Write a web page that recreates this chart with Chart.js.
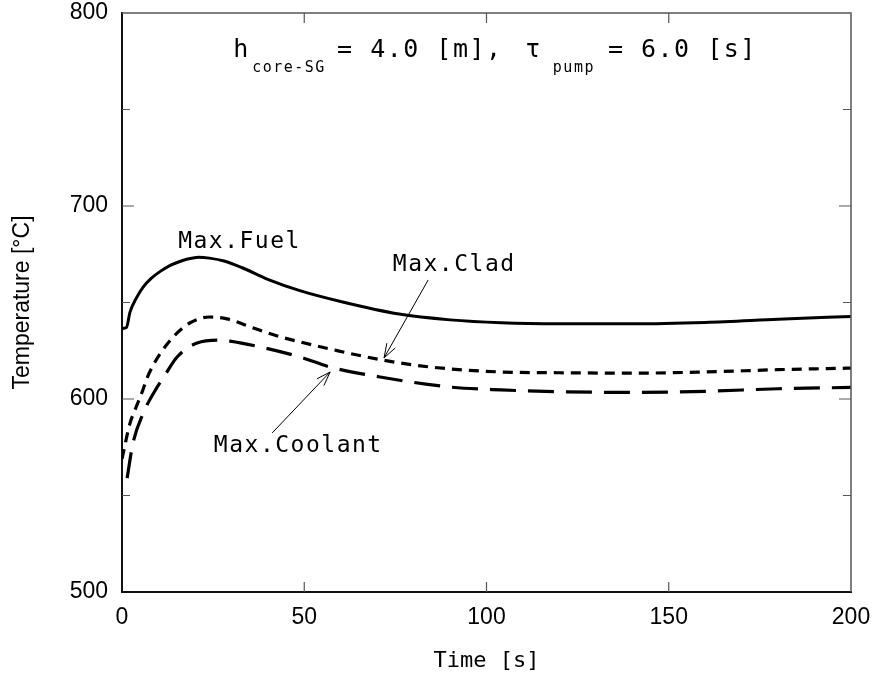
<!DOCTYPE html>
<html>
<head>
<meta charset="utf-8">
<script src="https://cdn.jsdelivr.net/npm/chart.js@4.4.0/dist/chart.umd.min.js"></script>
<style>
body { margin:0; background:#fff; }
#wrap { width:874px; height:674px; position:relative; }
</style>
</head>
<body>
<div id="wrap"><canvas id="chart"></canvas></div>
<script>
// values: time [s] / temperature [C]
var fuelTime = [0, 1.2, 2.2, 4, 5.8, 8, 10.4, 13, 15.5, 18, 21, 24, 28, 33, 40, 49, 60, 76, 90, 104, 120, 140, 160, 180, 200];
var fuelTemp = [636.5, 637, 645, 652.5, 658, 662.5, 666, 669, 671, 672.5, 673.5, 673, 671.5, 668, 662, 656, 650.5, 644, 641, 639.5, 639, 639, 639.7, 641.3, 642.8];

var cladTime = [0, 2.2, 3.6, 5.5, 6.9, 9, 11.2, 15, 18.7, 24, 28.8, 35, 42, 49, 58, 72, 85, 104, 120, 140, 160, 180, 200];
var cladTemp = [569, 587.5, 594.5, 603.5, 611, 619, 625.5, 634, 639.5, 642.5, 641.5, 637.5, 633, 629.5, 625.5, 620, 616.5, 614, 613.6, 613.4, 614, 615.2, 616];

var coolTime = [1.4, 3, 5.8, 9.6, 12, 15, 20.6, 27, 29.6, 37.9, 48.8, 57, 70.8, 90, 104, 120, 140, 160, 180, 200];
var coolTemp = [559, 577, 592.5, 606, 613, 621.5, 629, 630.5, 630, 627, 621.8, 616.6, 611.4, 606.2, 604.7, 603.8, 603.4, 604, 605.3, 606];

var xTicks = [0, 50, 100, 150, 200];
var yTicks = [500, 600, 700, 800];

var MONO = "'DejaVu Sans Mono', 'Liberation Mono', monospace";
var SANS = "'Liberation Sans', Arial, sans-serif";

function pts(t, v) {
  return t.map(function(x, i) { return {x: x, y: v[i]}; });
}

function arrow(ctx, x1, y1, x2, y2) {
  var ang = Math.atan2(y2 - y1, x2 - x1), len = 15, sp = 0.33;
  ctx.beginPath();
  ctx.moveTo(x1, y1); ctx.lineTo(x2, y2);
  ctx.moveTo(x2 - len * Math.cos(ang - sp), y2 - len * Math.sin(ang - sp));
  ctx.lineTo(x2, y2);
  ctx.lineTo(x2 - len * Math.cos(ang + sp), y2 - len * Math.sin(ang + sp));
  ctx.stroke();
}

// stop tick labels from pushing the plot area in
function noPad(s) {
  s.paddingTop = 0; s.paddingBottom = 0; s.paddingLeft = 0; s.paddingRight = 0;
}

var overlay = {
  id: 'overlay',
  afterDraw: function(chart) {
    var ctx = chart.ctx, a = chart.chartArea;
    var xs = chart.scales.x, ys = chart.scales.y;
    ctx.save();
    // top / right frame
    ctx.strokeStyle = '#555';
    ctx.lineWidth = 1.5;
    ctx.beginPath();
    ctx.moveTo(a.left, a.top); ctx.lineTo(a.right, a.top); ctx.lineTo(a.right, a.bottom);
    ctx.stroke();
    // inward tick marks
    ctx.lineWidth = 1.2;
    xs.ticks.forEach(function(tk) {
      if (tk.value <= xs.min || tk.value >= xs.max) return;
      var px = xs.getPixelForValue(tk.value);
      ctx.beginPath();
      ctx.moveTo(px, a.bottom); ctx.lineTo(px, a.bottom - 10);
      ctx.moveTo(px, a.top); ctx.lineTo(px, a.top + 10);
      ctx.stroke();
    });
    ys.ticks.forEach(function(tk) {
      if (tk.value <= ys.min || tk.value >= ys.max) return;
      var py = ys.getPixelForValue(tk.value);
      var l = yTicks.indexOf(tk.value) >= 0 ? 12 : 8;
      ctx.beginPath();
      ctx.moveTo(a.left, py); ctx.lineTo(a.left + l, py);
      ctx.moveTo(a.right, py); ctx.lineTo(a.right - l, py);
      ctx.stroke();
    });

    // in-plot title
    function txt(s, t, v, size) {
      ctx.font = size + 'px ' + MONO;
      ctx.fillText(s, xs.getPixelForValue(t), ys.getPixelForValue(v));
    }
    ctx.fillStyle = '#000';
    ctx.textAlign = 'left';
    ctx.textBaseline = 'alphabetic';
    ctx.letterSpacing = '1.5px';
    txt('h', 30.5, 777.2, 25);
    txt('core-SG', 35.7, 769.4, 15);
    txt('= 4.0 [m],', 59, 777.2, 25);
    txt('\u03c4', 110.6, 777.2, 25);
    txt('pump', 118.2, 769.4, 15);
    txt('= 6.0 [s]', 133.3, 777.2, 25);

    // curve labels
    ctx.textBaseline = 'middle';
    txt('Max.Fuel', 15.4, 681.3, 23);
    txt('Max.Clad', 74.3, 669.4, 23);
    txt('Max.Coolant', 25.2, 575.6, 23);
    ctx.letterSpacing = '0px';

    // arrows
    ctx.strokeStyle = '#000';
    ctx.lineWidth = 1;
    arrow(ctx, xs.getPixelForValue(84), ys.getPixelForValue(661.7), xs.getPixelForValue(71.9), ys.getPixelForValue(621.3));
    arrow(ctx, xs.getPixelForValue(41.2), ys.getPixelForValue(582.4), xs.getPixelForValue(57.1), ys.getPixelForValue(614));
    ctx.restore();
  }
};

new Chart(document.getElementById('chart'), {
  type: 'line',
  data: {
    datasets: [
      {label: 'Max.Fuel', data: pts(fuelTime, fuelTemp), borderColor: '#000', borderWidth: 3,
       pointRadius: 0, cubicInterpolationMode: 'monotone', fill: false},
      {label: 'Max.Clad', data: pts(cladTime, cladTemp), borderColor: '#000', borderWidth: 3.2,
       borderDash: [10, 7], pointRadius: 0, cubicInterpolationMode: 'monotone', fill: false},
      {label: 'Max.Coolant', data: pts(coolTime, coolTemp), borderColor: '#000', borderWidth: 3.2,
       borderDash: [26, 12], pointRadius: 0, cubicInterpolationMode: 'monotone', fill: false}
    ]
  },
  options: {
    responsive: true,
    maintainAspectRatio: false,
    animation: false,
    layout: {autoPadding: false, padding: {top: 13, right: 23, left: 0, bottom: 0}},
    plugins: {legend: {display: false}, tooltip: {enabled: false}},
    scales: {
      x: {
        type: 'linear', min: 0, max: 200,
        afterFit: function(s) { s.height = 82; noPad(s); },
        ticks: {stepSize: 50, color: '#000', padding: 12, font: {family: SANS, size: 23}},
        grid: {display: false, drawTicks: false},
        border: {display: true, color: '#111', width: 2},
        title: {display: true, text: 'Time [s]', color: '#000', font: {family: MONO, size: 22}, padding: {top: 0, bottom: 0}}
      },
      y: {
        type: 'linear', min: 500, max: 800,
        afterFit: function(s) { s.width = 122; noPad(s); },
        ticks: {stepSize: 50, color: '#000', padding: 14, font: {family: SANS, size: 23},
          callback: function(v) { return yTicks.indexOf(v) >= 0 ? v : ''; }},
        grid: {display: false, drawTicks: false},
        border: {display: true, color: '#111', width: 2},
        title: {display: true, text: 'Temperature [\u00b0C]', color: '#000', font: {family: SANS, size: 23}, padding: {top: 9, bottom: 0}}
      }
    }
  },
  plugins: [overlay]
});
</script>
</body>
</html>
